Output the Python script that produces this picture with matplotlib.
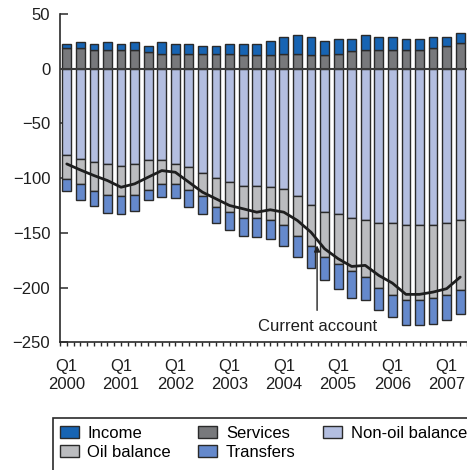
import matplotlib
matplotlib.use("Agg")
import matplotlib.pyplot as plt
from matplotlib.patches import Rectangle
import numpy as np

plt.rcParams['font.family'] = ['Liberation Sans', 'DejaVu Sans']

# Quarterly components, Q1 2000 .. Q2 2007
income = [3.6, 5.7, 5.2, 7.3, 5.2, 7.3, 5.2, 10.9, 8.8, 8.8, 7.0, 7.0, 8.8, 10.3, 10.3,
          13.3, 14.9, 16.7, 16.4, 13.3, 13.4, 11.3, 13.1, 11.3, 11.3, 9.8, 9.8, 9.7, 8.2, 8.8]
services = [18.9, 18.9, 17.3, 17.3, 17.3, 17.3, 15.5, 13.7, 13.7, 13.7, 13.7, 13.7, 13.7, 12.2, 12.2,
            12.2, 13.7, 13.7, 12.2, 12.2, 13.7, 15.8, 17.3, 17.3, 17.3, 17.3, 17.3, 18.9, 20.4, 23.4]
non_oil = [-78.7, -82.4, -85.5, -87.0, -88.5, -87.0, -83.3, -83.3, -87.0, -90.0, -95.2, -100.0,
           -103.7, -106.8, -106.8, -108.3, -109.8, -116.5, -124.7, -131.1, -132.6, -136.2, -138.0,
           -140.8, -140.8, -143.2, -143.2, -142.6, -140.8, -137.8]
oil = [-22.0, -22.8, -26.5, -28.0, -28.0, -28.0, -27.1, -21.9, -18.2, -20.4, -21.3, -26.5, -27.4,
       -29.4, -29.4, -29.7, -32.8, -36.5, -37.7, -41.0, -46.2, -49.0, -52.4, -59.3, -66.0, -68.5,
       -68.5, -67.0, -66.0, -64.1]
transfers = [-11.3, -14.6, -13.0, -16.4, -16.7, -15.2, -10.0, -11.6, -13.1, -16.1, -16.7, -14.5,
             -16.7, -16.8, -17.8, -18.0, -19.8, -19.1, -19.5, -21.3, -22.6, -24.7, -21.3, -20.7,
             -20.1, -22.8, -22.8, -23.4, -23.1, -22.6]
current_account = [-87.0, -92.5, -97.6, -102.2, -108.3, -105.2, -99.1, -93.1, -94.6, -103.7,
                   -112.8, -118.9, -125.0, -128.0, -131.1, -128.9, -131.1, -138.7, -149.4, -164.5,
                   -173.6, -180.7, -179.7, -188.9, -195.9, -206.2, -206.2, -204.1, -201.0, -190.4]
years = ['2000', '2001', '2002', '2003', '2004', '2005', '2006', '2007']

c_income = '#1764b3'
c_services = '#78797c'
c_nonoil = '#b3bee0'
c_oil = '#bbbcbf'
c_transfers = '#6589cc'
edge = '#2a2a2a'

x = np.arange(len(income))
income = np.array(income)
services = np.array(services)
non_oil = np.array(non_oil)
oil = np.array(oil)
transfers = np.array(transfers)

fig = plt.figure(figsize=(4.67, 4.70), dpi=100)
ax = fig.add_axes([60 / 467, 1 - 342.3 / 470, 1 - 60 / 467, (342.3 - 14) / 470])

w = 0.65
kw = dict(width=w, edgecolor=edge, linewidth=1.0, zorder=2)
b_serv = ax.bar(x, services, color=c_services, **kw)
b_inc = ax.bar(x, income, bottom=services, color=c_income, **kw)
b_non = ax.bar(x, non_oil, color=c_nonoil, **kw)
b_oil = ax.bar(x, oil, bottom=non_oil, color=c_oil, **kw)
b_tr = ax.bar(x, transfers, bottom=non_oil + oil, color=c_transfers, **kw)

ax.axhline(0, color='#3a3a3a', lw=1.5, zorder=3)
ax.plot(x, current_account, color='#1e1e1e', lw=2.0, zorder=4,
        solid_joinstyle='round', solid_capstyle='round')

ax.annotate('', xy=(18.45, -161.5), xytext=(18.45, -220.8),
            arrowprops=dict(arrowstyle='-|>', color='#222222', lw=1.0,
                            mutation_scale=9, shrinkA=0, shrinkB=0), zorder=5)
ax.text(18.45, -235.4, 'Current account', ha='center', va='center', fontsize=12,
        color='#1e1e1e')

ax.set_xlim(-0.5, 29.5)
ax.set_ylim(-250, 50)
ax.set_yticks(np.arange(-250, 51, 50))
ax.set_xticks(np.arange(0, 30, 4))
ax.set_xticklabels(['Q1\n' + y for y in years])
ax.set_xticks(np.arange(-0.5, 29.6, 0.5), minor=True)

for s in ['top', 'right']:
    ax.spines[s].set_visible(False)
for s in ['left', 'bottom']:
    ax.spines[s].set_color('#2a2a2a')
    ax.spines[s].set_linewidth(1.2)

ax.tick_params(axis='y', direction='in', length=5.5, width=1.1, color='#2a2a2a',
               labelsize=12, pad=7, labelcolor='#1e1e1e')
ax.tick_params(axis='x', which='both', direction='out', length=3.2, width=1.0,
               color='#2a2a2a', labelsize=12, pad=9, labelcolor='#1e1e1e')

handles = [b_inc, b_oil, b_serv, b_tr, b_non]
labels = ['Income', 'Oil balance', 'Services', 'Transfers', 'Non-oil balance']
leg = fig.legend(handles, labels, ncol=3, loc='upper left',
                 bbox_to_anchor=(58 / 467, 1 - 424 / 470), frameon=False, fontsize=12,
                 handlelength=1.15, handleheight=0.75, handletextpad=0.5,
                 columnspacing=1.65, labelspacing=0.25, borderpad=0.1, borderaxespad=0)

fig.patches.append(Rectangle((53 / 467, -0.1), 1.0, 0.1 + (470 - 418) / 470,
                             transform=fig.transFigure, fill=False, edgecolor='#2a2a2a',
                             linewidth=1.2, figure=fig))

fig.savefig('out.png', dpi=100)
